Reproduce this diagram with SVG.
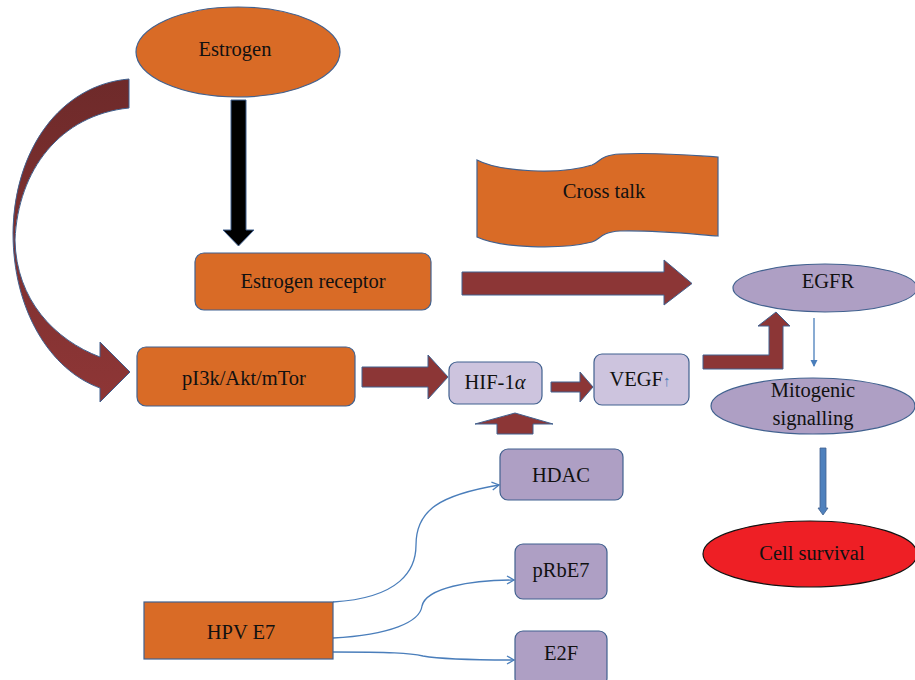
<svg xmlns="http://www.w3.org/2000/svg" width="915" height="680" viewBox="0 0 915 680">
<defs>
<style>
.t{font-family:"Liberation Serif","Times New Roman",serif;font-size:20.5px;fill:#111;text-anchor:middle}
.or{fill:#d96b26;stroke:#41618f;stroke-width:1.2}
.lv{fill:#ae9fc4;stroke:#41618f;stroke-width:1.2}
.lt{fill:#cdc4de;stroke:#41618f;stroke-width:1.2}
.ba{fill:#8c3636;stroke:#41618f;stroke-width:1}
.thin{fill:none;stroke:#4a7ebb;stroke-width:1.3}
</style>
<linearGradient id="cg" x1="0" y1="0" x2="0" y2="1">
<stop offset="0" stop-color="#6e2a2a"/>
<stop offset="1" stop-color="#8e3636"/>
</linearGradient>
<marker id="open" markerWidth="10" markerHeight="10" refX="8" refY="5" orient="auto" markerUnits="userSpaceOnUse">
<path d="M1,1 L8,5 L1,9" fill="none" stroke="#4a7ebb" stroke-width="1.3"/>
</marker>
<marker id="tri" markerWidth="8" markerHeight="8" refX="6" refY="4" orient="auto" markerUnits="userSpaceOnUse">
<path d="M0,0.5 L7,4 L0,7.5 Z" fill="#4a7ebb"/>
</marker>
</defs>
<rect width="915" height="680" fill="#fff"/>

<g id="connectors">
<path d="M129,79 C60,85 14,150 13,233 C13,310 50,370 100,388 L100,402 L130,372 L100,342 L100,357 C55,340 16,300 15,240 C18,170 60,115 129,108 Z" fill="url(#cg)" stroke="#41618f" stroke-width="1"/>
<path d="M231,100 L246,100 L246,230 L254,230 L238.5,246 L223,230 L231,230 Z" fill="#000" stroke="#41618f" stroke-width="1"/>
<path class="ba" d="M462,272 L664,272 L664,260 L692,283.5 L664,305 L664,295 L462,295 Z"/>
<path class="ba" d="M362,367 L428,367 L428,355 L448,377 L428,399 L428,387 L362,387 Z"/>
<path class="ba" d="M551,382 L580,382 L580,372 L593,387 L580,402 L580,392 L551,392 Z"/>
<path class="ba" d="M497,434 L497,424 L475,424 L515,413 L553,424 L533,424 L533,434 Z"/>
<path class="ba" d="M703,355 L769,355 L769,326 L758,326 L776,312 L790,326 L783,326 L783,369 L703,369 Z"/>
<path class="thin" d="M814,318 L814,366" marker-end="url(#tri)"/>
<path d="M820,448 L826,448 L826,508 L828,508 L823,515 L818,508 L820,508 Z" fill="#4f81bd" stroke="#41618f" stroke-width="0.8"/>
<path class="thin" d="M333,602 C400,598 416,570 416,545 C416,510 440,495 499,485" marker-end="url(#open)"/>
<path class="thin" d="M333,638 C390,635 420,622 422,606 C426,588 470,580 514,580" marker-end="url(#open)"/>
<path class="thin" d="M333,652 C390,652 410,653 423,656 C440,659 480,660 514,660" marker-end="url(#open)"/>
</g>

<g id="estrogen">
<ellipse class="or" cx="238" cy="52" rx="102" ry="45"/>
<text class="t" x="235" y="56">Estrogen</text>
</g>
<g id="estrogen-receptor">
<rect class="or" x="195" y="253" width="236" height="57" rx="9"/>
<text class="t" x="313" y="288">Estrogen receptor</text>
</g>
<g id="crosstalk">
<path class="or" d="M477,160 C500,172 560,175 592,165 C600,162 600,155 620,154 C660,152 700,156 718,157 L718,236 C700,235 660,230 620,231 C600,232 600,240 592,242 C560,250 500,248 477,237 Z"/>
<text class="t" x="604" y="198">Cross talk</text>
</g>
<g id="pi3k">
<rect class="or" x="137" y="347" width="218" height="59" rx="9"/>
<text class="t" x="244" y="385">pI3k/Akt/mTor</text>
</g>
<g id="hif">
<rect class="lt" x="449" y="362" width="93" height="42" rx="8"/>
<text class="t" x="495" y="389">HIF-1<tspan font-style="italic">α</tspan></text>
</g>
<g id="vegf">
<rect class="lt" x="594" y="354" width="95" height="51" rx="8"/>
<text class="t" x="640" y="386">VEGF<tspan fill="#4a7ebb" font-size="15">↑</tspan></text>
</g>
<g id="egfr">
<ellipse class="lv" cx="825" cy="288" rx="92" ry="24"/>
<text class="t" x="828" y="288">EGFR</text>
</g>
<g id="mitogenic">
<ellipse class="lv" cx="813" cy="406" rx="102" ry="28"/>
<text class="t" x="813" y="397">Mitogenic</text>
<text class="t" x="813" y="425">signalling</text>
</g>
<g id="cell-survival">
<ellipse cx="810" cy="554" rx="107" ry="33" fill="#ee1f25" stroke="#111" stroke-width="1.2"/>
<text class="t" x="812" y="560">Cell survival</text>
</g>
<g id="hdac">
<rect class="lv" x="500" y="449" width="123" height="51" rx="8"/>
<text class="t" x="561" y="482">HDAC</text>
</g>
<g id="prbe7">
<rect class="lv" x="515" y="544" width="92" height="55" rx="8"/>
<text class="t" x="561" y="577">pRbE7</text>
</g>
<g id="e2f">
<rect class="lv" x="515" y="631" width="92" height="55" rx="8"/>
<text class="t" x="561" y="660">E2F</text>
</g>
<g id="hpv">
<rect class="or" x="144" y="602" width="189" height="57"/>
<text class="t" x="241" y="639">HPV E7</text>
</g>
</svg>
